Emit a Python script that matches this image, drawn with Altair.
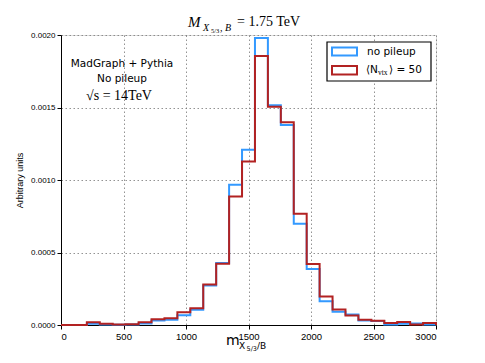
import altair as alt
import numpy as np
import pandas as pd

# ---- data -------------------------------------------------------------
X_MIN, X_MAX, N_BINS = 0, 3000, 29
bin_edges = list(np.linspace(X_MIN, X_MAX, N_BINS + 1))

no_pileup = [0, 0, 8e-6, 3e-6, 1e-6, 3e-6, 1.0e-5, 3.1e-5, 3.6e-5, 6.8e-5,
             1.05e-4, 2.72e-4, 4.27e-4, 9.67e-4, 1.208e-3, 1.979e-3, 1.515e-3,
             1.380e-3, 6.99e-4, 3.87e-4, 1.64e-4, 9.2e-5, 7.2e-5, 3.1e-5,
             2.7e-5, 3e-6, 9e-6, 1.0e-5, 3e-6]
pileup_50 = [0, 0, 1.9e-5, 8e-6, 3e-6, 6e-6, 1.9e-5, 4.0e-5, 4.7e-5, 8.8e-5,
             1.16e-4, 2.79e-4, 4.23e-4, 8.87e-4, 1.128e-3, 1.855e-3, 1.505e-3,
             1.399e-3, 7.68e-4, 4.21e-4, 1.96e-4, 1.07e-4, 6.5e-5, 3.6e-5,
             2.9e-5, 1.3e-5, 2.0e-5, 4e-6, 1.3e-5]
series_names = ["no pileup", "<N_vtx> = 50"]
x_ticks = [0, 500, 1000, 1500, 2000, 2500, 3000]
y_ticks = [0.0, 0.0005, 0.0010, 0.0015, 0.0020]

BLUE = "#3399ff"
RED = "#b22222"

rows = []
for name, vals in zip(series_names, [no_pileup, pileup_50]):
    k = 0
    for e, v in zip(bin_edges[:-1], vals):
        rows.append({"series": name, "x": e, "y": v, "k": k}); k += 1
    rows.append({"series": name, "x": bin_edges[-1], "y": vals[-1], "k": k}); k += 1
    rows.append({"series": name, "x": bin_edges[-1], "y": 0.0, "k": k})
df = pd.DataFrame(rows)

W, H = 375, 290

xs = alt.Scale(domain=[X_MIN, X_MAX], nice=False, zero=False)
ys = alt.Scale(domain=[0, 0.002], nice=False)

grid = dict(grid=True, gridDash=[1.5, 2.5], gridColor="#777777", gridWidth=0.8,
            domainColor="black", tickColor="black", tickSize=4,
            labelColor="black", labelFont="Liberation Sans")

base = alt.Chart(df).encode(
    x=alt.X("x:Q", scale=xs,
            axis=alt.Axis(values=x_ticks, format="d", title=None,
                          labelFontSize=9.5, labelPadding=2, **grid)),
    y=alt.Y("y:Q", scale=ys,
            axis=alt.Axis(values=y_ticks, format=".4f", title="Arbitrary units",
                          titleFont="Liberation Sans", titleFontSize=9,
                          titleFontWeight="normal", titleColor="black",
                          titlePadding=6, labelFontSize=8, labelPadding=2, **grid)),
    order="k:Q",
)

blue_line = base.transform_filter(alt.datum.series == series_names[0]).mark_line(
    interpolate="step-after", color=BLUE, strokeWidth=2)
red_line = base.transform_filter(alt.datum.series == series_names[1]).mark_line(
    interpolate="step-after", color=RED, strokeWidth=2)

def txt(s, x, y, size, font="Liberation Sans", style="normal", align="left"):
    return alt.Chart(pd.DataFrame({"t": [s]})).mark_text(
        font=font, fontSize=size, fontStyle=style, align=align,
        baseline="middle", color="black").encode(
        text="t:N", x=alt.value(x), y=alt.value(y))

def box(x1, x2, y1, y2, stroke, width, fill="white"):
    return alt.Chart(pd.DataFrame({"a": [0]})).mark_rect(
        stroke=stroke, strokeWidth=width, fill=fill).encode(
        x=alt.value(x1), x2=alt.value(x2), y=alt.value(y1), y2=alt.value(y2))

SERIF = "Liberation Serif"
# title  M_{X_{5/3}, B} = 1.75 TeV
title_layers = [
    txt("M", 127, -13, 15, SERIF, "italic"),
    txt("X", 142, -7, 10, SERIF, "italic"),
    txt("5/3", 150, -4, 6.5, SERIF),
    txt(", B", 159, -7, 10, SERIF, "italic"),
    txt("= 1.75 TeV", 176, -13, 14, SERIF),
]
# x title  m_{X 5/3/B}
xtitle_layers = [
    txt("m", 165, 306, 14, "DejaVu Sans"),
    txt("X", 178, 311, 9, "DejaVu Sans"),
    txt("5/3", 185.5, 314, 6.5, "DejaVu Sans"),
    txt("/B", 196, 311, 9, "DejaVu Sans"),
]
# annotation
ann_layers = [
    txt("MadGraph + Pythia", 61, 29, 10.5, "DejaVu Sans", align="center"),
    txt("No pileup", 61, 44, 10.5, "DejaVu Sans", align="center"),
    txt("√s = 14TeV", 58, 61, 14, SERIF, align="center"),
]
# legend
legend_layers = [
    box(266, 370, 7, 46, "black", 1.2),
    box(271, 296, 12.5, 20.5, BLUE, 2),
    txt("no pileup", 306, 16.5, 10.5, "DejaVu Sans"),
    box(271, 296, 31, 39.5, RED, 2),
    txt("⟨N", 305, 35, 10.5, "DejaVu Sans"),
    txt("vtx", 317, 38, 7.5, SERIF),
    txt("⟩ = 50", 328, 35, 10.5, "DejaVu Sans"),
]

chart = alt.layer(blue_line, red_line, *title_layers, *xtitle_layers,
                  *ann_layers, *legend_layers).properties(
    width=W, height=H,
    autosize=alt.AutoSizeParams(type="none"),
    padding={"left": 53, "top": 27, "right": 30, "bottom": 30},
).configure_view(stroke="black", strokeWidth=1.2).configure(background="white")

chart.save("out.html", embed_options={"renderer": "svg", "actions": False})
